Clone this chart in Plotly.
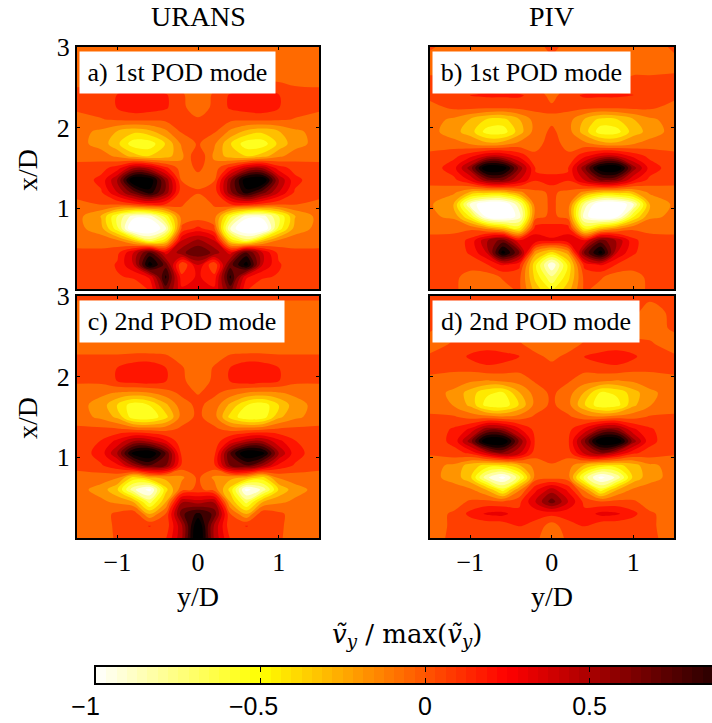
import plotly.graph_objects as go
import numpy as np

y_d = [-1.5,-1.2,-1,-.8,-.6,-.4,-.2,0,.2,.4,.6,.8,1,1.2,1.5]
x_d = [3,2.8,2.6,2.4,2.25,2.1,1.95,1.8,1.65,1.5,1.35,1.2,1.05,.9,.75,.6,.45,.3,.15,0]

urans_mode1 = [
[-.15,-.15,-.15,-.15,-.15,-.15,-.15,-.15,-.15,-.15,-.15,-.15,-.15,-.15,-.15],
[-.15,-.15,-.15,-.15,-.15,-.15,-.15,-.15,-.15,-.15,-.15,-.15,-.15,-.15,-.15],
[-.08,-.08,-.08,-.08,-.08,-.08,-.1,-.12,-.1,-.08,-.08,-.08,-.08,-.08,-.08],
[-.03,-.02,.07,.12,.12,.08,-.04,-.12,-.04,.08,.12,.12,.07,-.02,-.03],
[-.03,-.02,.07,.14,.12,.08,-.03,-.12,-.03,.08,.12,.14,.07,-.02,-.03],
[-.1,-.06,-.04,-.03,-.03,-.03,-.03,-.04,-.03,-.03,-.03,-.03,-.04,-.06,-.1],
[-.13,-.2,-.3,-.38,-.33,-.2,-.04,-.04,-.04,-.2,-.33,-.38,-.3,-.2,-.13],
[-.13,-.22,-.38,-.6,-.6,-.4,-.15,-.04,-.15,-.4,-.6,-.6,-.38,-.22,-.13],
[-.08,-.12,-.2,-.35,-.42,-.35,-.2,.06,-.2,-.35,-.42,-.35,-.2,-.12,-.08],
[-.03,.02,.12,.4,.35,.1,-.12,-.03,-.12,.1,.35,.4,.12,.02,-.03],
[-.02,.1,.42,1.05,1,.5,-.06,-.1,-.06,.5,1,1.05,.42,.1,-.02],
[-.02,.05,.3,.6,.85,.5,-.03,-.04,-.03,.5,.85,.6,.3,.05,-.02],
[-.08,-.05,-.04,.02,.1,.06,-.04,-.15,-.04,.06,.1,.02,-.04,-.05,-.08],
[-.13,-.3,-.65,-.95,-.95,-.6,-.12,-.12,-.12,-.6,-.95,-.95,-.65,-.3,-.13],
[-.13,-.25,-.6,-1.2,-1.2,-.9,-.03,.1,-.03,-.9,-1.2,-1.2,-.6,-.25,-.13],
[-.08,-.1,-.15,-.35,-.7,-.45,.3,.45,.3,-.45,-.7,-.35,-.15,-.1,-.08],
[-.04,-.03,.03,.3,.7,.25,.5,.65,.5,.25,.7,.3,.03,-.03,-.04],
[-.03,-.02,.08,.3,.95,.6,-.06,.3,-.06,.6,.95,.3,.08,-.02,-.03],
[-.03,-.03,.05,.08,.2,.8,.1,.2,.1,.8,.2,.08,.05,-.03,-.03],
[-.03,-.03,-.03,-.03,.08,.6,.2,.3,.2,.6,.08,-.03,-.03,-.03,-.03],
]
piv_mode1 = [
[-.04,-.1,-.1,-.12,-.12,-.1,-.1,-.02,-.1,-.1,-.12,-.12,-.1,-.1,-.04],
[-.1,-.1,-.1,-.1,-.1,-.1,-.1,-.1,-.1,-.1,-.1,-.1,-.1,-.1,-.08],
[-.04,-.04,-.04,-.07,-.1,-.1,-.1,-.1,-.1,-.1,-.1,-.07,-.04,-.04,-.04],
[-.02,0,.07,.08,.08,.08,.02,-.1,.02,.08,.08,.08,.07,0,-.02],
[-.1,-.03,-.02,-.03,-.03,-.02,-.02,-.03,-.02,-.02,-.03,-.03,-.02,-.03,-.1],
[-.12,-.2,-.3,-.42,-.45,-.3,-.12,-.08,-.12,-.3,-.45,-.42,-.3,-.2,-.12],
[-.12,-.25,-.35,-.58,-.6,-.35,-.12,-.03,-.12,-.35,-.6,-.58,-.35,-.25,-.12],
[-.1,-.12,-.18,-.25,-.22,-.13,-.1,0,-.1,-.13,-.22,-.25,-.18,-.12,-.1],
[-.03,.03,.14,.3,.3,.14,-.03,0,-.03,.14,.3,.3,.14,.03,-.03],
[-.02,.14,.48,1.05,1,.5,.06,-.02,.06,.5,1,1.05,.48,.14,-.02],
[-.02,.03,.2,.5,.55,.3,.07,.14,.07,.3,.55,.5,.2,.03,-.02],
[-.1,-.15,-.3,-.35,-.35,-.2,-.08,-.04,-.08,-.2,-.35,-.35,-.3,-.15,-.1],
[-.15,-.3,-.9,-1.15,-1.15,-.8,-.1,-.04,-.1,-.8,-1.15,-1.15,-.9,-.3,-.15],
[-.15,-.2,-.55,-1.05,-1.15,-.95,-.1,-.03,-.1,-.95,-1.15,-1.05,-.55,-.2,-.15],
[-.08,-.08,-.08,-.2,-.35,-.55,.12,.12,.12,-.55,-.35,-.2,-.08,-.08,-.08],
[-.03,-.02,.1,.4,.6,.2,.25,.2,.25,.2,.6,.4,.1,-.02,-.03],
[-.03,-.01,.08,.3,.95,.55,-.25,-.45,-.25,.55,.95,.3,.08,-.01,-.03],
[-.03,-.03,-.01,.05,.2,.1,-.5,-1,-.5,.1,.2,.05,-.01,-.03,-.03],
[-.03,-.03,-.1,-.12,-.04,-.02,-.45,-.75,-.45,-.02,-.04,-.12,-.1,-.03,-.03],
[-.03,-.03,-.12,-.13,-.1,-.03,-.35,-.55,-.35,-.03,-.1,-.13,-.12,-.03,-.03],
]
urans_mode2 = [
[-.03,-.03,-.03,-.03,-.03,-.03,-.03,-.03,-.03,-.03,-.03,-.03,-.03,-.03,-.03],
[-.12,-.12,-.12,-.12,-.12,-.12,-.12,-.12,-.12,-.12,-.12,-.12,-.12,-.12,-.12],
[-.15,-.15,-.15,-.15,-.15,-.15,-.15,-.15,-.15,-.15,-.15,-.15,-.15,-.15,-.15],
[-.13,-.13,-.13,-.13,-.13,-.13,-.13,-.13,-.13,-.13,-.13,-.13,-.13,-.13,-.13],
[-.04,-.04,-.04,-.03,-.03,-.04,-.1,-.15,-.1,-.04,-.03,-.03,-.04,-.04,-.04],
[-.03,-.02,.07,.16,.18,.07,-.04,-.15,-.04,.07,.18,.16,.07,-.02,-.03],
[-.03,-.02,.07,.12,.14,.07,-.03,-.13,-.03,.07,.14,.12,.07,-.02,-.03],
[-.13,-.15,-.18,-.2,-.18,-.1,-.03,-.06,-.03,-.1,-.18,-.2,-.18,-.15,-.13],
[-.13,-.22,-.42,-.6,-.52,-.32,-.1,-.03,-.1,-.32,-.52,-.6,-.42,-.22,-.13],
[-.12,-.2,-.32,-.6,-.62,-.45,-.12,-.03,-.12,-.45,-.62,-.6,-.32,-.2,-.12],
[-.03,-.03,-.04,-.08,-.1,-.1,-.03,-.03,-.03,-.1,-.1,-.08,-.04,-.03,-.03],
[-.02,.07,.22,.42,.38,.2,-.02,-.03,-.02,.2,.38,.42,.22,.07,-.02],
[-.02,.12,.42,.95,1.05,.65,.02,-.03,.02,.65,1.05,.95,.42,.12,-.02],
[-.02,.05,.15,.45,.65,.55,.03,-.03,.03,.55,.65,.45,.15,.05,-.02],
[-.1,-.12,-.15,-.45,-.3,-.25,-.2,-.03,-.2,-.25,-.3,-.45,-.15,-.12,-.1],
[-.13,-.22,-.4,-.85,-1.05,-.45,-.1,-.03,-.1,-.45,-1.05,-.85,-.4,-.22,-.13],
[-.13,-.15,-.2,-.3,-.7,-.3,.4,.35,.4,-.3,-.7,-.3,-.2,-.15,-.13],
[-.1,-.1,-.03,.03,-.3,-.05,.62,.8,.62,-.05,-.3,.03,-.03,-.1,-.1],
[-.13,-.13,-.02,0,.07,-.02,.4,1.05,.4,-.02,.07,0,-.02,-.13,-.13],
[-.13,-.13,-.03,-.03,-.02,.05,.4,1.1,.4,.05,-.02,-.03,-.03,-.13,-.13],
]
piv_mode2 = [
[-.03,-.03,-.03,-.03,-.03,-.03,-.03,-.03,-.03,-.03,-.03,-.03,-.03,-.03,-.03],
[-.03,-.03,-.03,-.03,-.04,-.04,-.1,-.1,-.1,-.04,-.04,-.1,-.03,-.1,-.03],
[-.04,-.1,-.1,-.1,-.1,-.12,-.12,-.12,-.12,-.12,-.1,-.1,-.1,-.1,-.04],
[-.1,-.04,-.03,-.03,-.04,-.04,-.1,-.13,-.1,-.04,-.04,-.03,-.03,-.04,-.1],
[-.04,-.02,.09,.16,.12,.07,-.03,-.08,-.03,.07,.12,.16,.09,-.02,-.04],
[-.03,-.03,-.02,.02,.01,-.02,-.03,-.02,-.03,-.02,.01,.02,-.02,-.03,-.03],
[-.08,-.12,-.15,-.18,-.15,-.12,-.04,.03,-.04,-.12,-.15,-.18,-.15,-.12,-.08],
[-.12,-.2,-.35,-.5,-.55,-.3,-.12,-.03,-.12,-.3,-.55,-.5,-.35,-.2,-.12],
[-.12,-.18,-.32,-.58,-.62,-.4,-.13,-.03,-.13,-.4,-.62,-.58,-.32,-.18,-.12],
[-.03,-.04,-.1,-.12,-.15,-.12,-.03,-.04,-.03,-.12,-.15,-.12,-.1,-.04,-.03],
[-.02,.08,.2,.48,.45,.2,.02,-.03,.02,.2,.45,.48,.2,.08,-.02],
[-.02,.1,.48,1.05,1.05,.52,.04,-.02,.04,.52,1.05,1.05,.48,.1,-.02],
[-.04,.02,.08,.3,.5,.32,-.01,-.03,-.01,.32,.5,.3,.08,.02,-.04],
[-.13,-.2,-.35,-.45,-.45,-.3,-.12,-.06,-.12,-.3,-.45,-.45,-.35,-.2,-.13],
[-.13,-.22,-.38,-.85,-1.05,-.7,-.12,-.1,-.12,-.7,-1.05,-.85,-.38,-.22,-.13],
[-.12,-.12,-.15,-.3,-.6,-.2,.15,.35,.15,-.2,-.6,-.3,-.15,-.12,-.12],
[-.12,-.1,-.04,-.02,-.04,.03,.3,.6,.3,.03,-.04,-.02,-.04,-.1,-.12],
[-.1,-.04,.1,.2,.22,.1,.1,.1,.1,.1,.22,.2,.1,-.04,-.1],
[-.12,-.03,-.03,-.03,-.02,.07,.03,-.12,.03,.07,-.02,-.03,-.03,-.03,-.12],
[-.1,-.03,-.03,-.03,-.03,-.03,-.03,-.13,-.03,-.03,-.03,-.03,-.03,-.03,-.1],
]

panel_labels = ["a) 1st POD mode","b) 1st POD mode","c) 2nd POD mode","d) 2nd POD mode"]
column_titles = ["URANS","PIV"]
cbar_ticks = [-1,-.5,0,.5]
NB = "\u00a0"
cbar_ticklabels = ["\u22121"+NB*3,"\u22120.5"+NB*2,"0","0.5"]

hot_inv = [[0,"#ffffff"],[.25,"#ffff00"],[.625,"#ff0000"],[1,"#000000"]]
W,H = 712,723
SERIF = "Liberation Serif"
BOXES = [(77,319,47,289),(429.5,674,47,289),(77,319,296,538),(429.5,674,296,538)]
LABEL_W = [195,197,204,206]
PANELS = [urans_mode1,piv_mode1,urans_mode2,piv_mode2]

fig = go.Figure()
for i,(z,box) in enumerate(zip(PANELS,BOXES)):
    n = i+1
    s = "" if n==1 else str(n)
    fig.add_trace(go.Contour(x=y_d,y=x_d[::-1],z=z[::-1],xaxis="x"+s,yaxis="y"+s,
        colorscale=hot_inv,zmin=-1,zmax=1,autocontour=False,
        contours=dict(start=-1.117,end=1.243,size=.118,coloring="fill",showlines=False),
        line=dict(width=0,smoothing=1),showscale=False,hoverinfo="skip"))
    l,r,t,b = box
    xa = dict(domain=[l/W,r/W],range=[-1.5,1.5],tickvals=[-1,0,1],ticks="inside",ticklen=3,
              tickcolor="black",showline=True,linecolor="black",linewidth=2,mirror="ticks",
              showgrid=False,zeroline=False,anchor="y"+s,automargin=False,
              showticklabels=n>2,tickfont=dict(family=SERIF,size=26,color="black"))
    ya = dict(domain=[1-b/H,1-t/H],range=[0,3],tickvals=[1,2,3],ticks="inside",ticklen=3,
              tickcolor="black",showline=True,linecolor="black",linewidth=2,mirror="ticks",
              showgrid=False,zeroline=False,anchor="x"+s,automargin=False,
              showticklabels=n%2==1,tickfont=dict(family=SERIF,size=26,color="black"))
    fig.update_layout({"xaxis"+s:xa,"yaxis"+s:ya})
    fig.add_annotation(xref="paper",yref="paper",x=(l+2)/W,y=1-(t+4)/H,
        xanchor="left",yanchor="top",text=panel_labels[i],showarrow=False,bgcolor="white",
        width=LABEL_W[i],height=41,borderpad=0,align="center",
        font=dict(family=SERIF,size=26,color="black"))

# colour bar, cut off by the right page edge as in the reference
band_centres = np.linspace(-1,1,64,endpoint=False)+1/64
fig.add_trace(go.Heatmap(x=band_centres,y=[0],z=[band_centres],xaxis="x5",yaxis="y5",
    colorscale=hot_inv,zmin=-1,zmax=1,showscale=False,hoverinfo="skip"))
fig.update_layout(
    xaxis5=dict(domain=[96/W,1],range=[-1,-1+(W-96)/329],tickvals=cbar_ticks,
        ticktext=cbar_ticklabels,ticks="inside",ticklen=5,tickcolor="black",
        showline=True,linecolor="black",linewidth=2,mirror="ticks",showgrid=False,zeroline=False,
        anchor="y5",automargin=False,tickfont=dict(family="Liberation Sans",size=25,color="black")),
    yaxis5=dict(domain=[1-683/H,1-667/H],range=[-.5,.5],showticklabels=False,ticks="",automargin=False,
        showline=True,linecolor="black",linewidth=2,mirror=True,showgrid=False,zeroline=False,anchor="x5"),
    width=W,height=H,margin=dict(l=0,r=0,t=0,b=0),paper_bgcolor="white",plot_bgcolor="white",showlegend=False)

def note(text,cx,cy,size=28,family=SERIF,angle=0):
    fig.add_annotation(xref="paper",yref="paper",x=cx/W,y=1-cy/H,text=text,showarrow=False,
        xanchor="center",yanchor="middle",textangle=angle,font=dict(family=family,size=size,color="black"))

for text,cx in zip(column_titles,[198,551.5]):
    note(text,cx,16)
for cx in (198,551.5):
    note("y/D",cx,596)
for cy in (170,418):
    note("x/D",27,cy,angle=-90)
note("<i>v\u0303</i><sub><i>y</i></sub> / max(<i>v\u0303</i><sub><i>y</i></sub>)",407,635,size=26,family="DejaVu Serif")

fig.write_html("out.html",config={"displayModeBar":False},post_script="document.body.style.margin='0';")
